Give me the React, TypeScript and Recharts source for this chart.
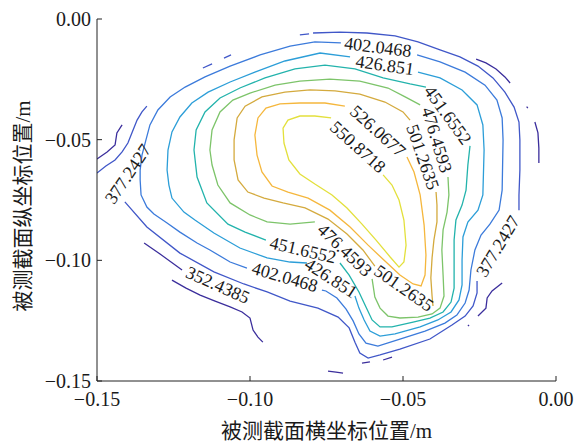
import React from 'react';
import { ComposedChart, Line, Scatter, XAxis, YAxis } from 'recharts';

// ---- data (millimetres, axes show metres) ----
const xTicks = [-150, -100, -50, 0];
const yTicks = [-150, -100, -50, 0];

const contourLevels = [352.4385, 377.2427, 402.0468, 426.851, 451.6552, 476.4593, 501.2635, 526.0677, 550.8718];

const level1 = [
  [[-150, -58.0], [-146.7, -55.1], [-144.1, -52.2], [-143.5, -47.2], [-141.8, -43.9]],
  [[-134.6, -92.8], [-129.4, -97.4], [-122.2, -104.0]],
  [[-125.5, -108.2], [-120.9, -111.5], [-116.3, -114.4], [-111.4, -116.9], [-106.5, -119.3], [-102.6, -121.4], [-100.0, -123.9], [-99.0, -128.9], [-97.4, -131.8], [-95.8, -133.9]],
  [[-74.5, -145.9], [-71.9, -146.3], [-69.6, -146.7]],
  [[-63.4, -142.6], [-60.8, -142.1]],
  [[-56.5, -141.3], [-53.6, -140.1]],
  [[-26.1, -16.6], [-22.9, -18.2], [-19.6, -20.7], [-16.7, -24.0], [-15.0, -26.5]],
  [[-9.6, -36.3], [-9.2, -36.9]],
  [[-6.9, -42.7], [-5.9, -47.2], [-5.6, -53.5], [-5.6, -59.7]],
  [[-17.6, -109.4], [-20.9, -112.7], [-22.5, -115.6], [-22.9, -119.8], [-25.5, -123.1]],
  [[-28.8, -126.8], [-28.4, -127.2]],
];

const level2 = [
  [[-150, -63.8], [-147.1, -60.9], [-144.1, -58.4], [-141.8, -55.1], [-139.9, -51.4], [-138.6, -47.2], [-136.9, -41.9], [-135.3, -38.5], [-133.7, -36.1]],
  [[-115.4, -20.3], [-112.4, -18.6]],
  [[-108.5, -16.2], [-106.2, -14.9]],
  [[-83.7, -6.6], [-80.7, -6.2]],
  [[-79.4, -5.8], [-70.6, -5.4], [-61.8, -5.8], [-52.6, -7.0], [-45.1, -9.5], [-37.9, -12.8], [-31.4, -15.7], [-25.5, -19.5], [-20.6, -24.4], [-16.7, -30.3], [-13.7, -36.5], [-12.1, -42.7], [-11.8, -50.1], [-11.8, -62.6], [-12.1, -72.9], [-12.1, -79.2]],
  [[-25.8, -108.6], [-25.8, -113.5], [-27.1, -118.9], [-29.7, -123.1], [-34.0, -126.8], [-41.2, -132.6], [-51.0, -136.8], [-57.5, -139.2], [-61.4, -140.5], [-64.1, -138.4], [-65.7, -133.9], [-67.6, -128.0], [-71.2, -123.5], [-77.8, -119.8], [-86.9, -116.9], [-94.4, -113.1], [-102.0, -109.8], [-111.8, -104.8], [-122.9, -97.0], [-133.7, -86.2], [-140.9, -75.8]],
];

const level3 = [
  [[-101.0, -103.2], [-106.5, -100.7], [-113.1, -95.7], [-117.3, -92.8], [-122.9, -88.3], [-127.1, -84.5], [-131.4, -80.8], [-133.7, -77.9], [-135.6, -72.9], [-135.9, -66.7], [-135.9, -62.6], [-135.3, -56.4], [-134.0, -50.1], [-132.7, -43.9], [-130.1, -37.7], [-126.1, -32.3], [-121.2, -28.2], [-114.7, -24.0], [-106.5, -19.5], [-96.7, -14.9], [-86.9, -11.2], [-78.8, -9.5], [-70.3, -9.9]],
  [[-45.4, -14.9], [-37.9, -17.8], [-29.7, -22.0], [-23.2, -27.4], [-19.3, -33.6], [-17.6, -41.0], [-17.3, -50.1], [-17.6, -70.9], [-18.6, -79.2], [-21.6, -85.0], [-24.5, -89.5], [-26.5, -95.7], [-27.8, -104.0], [-28.4, -112.3], [-29.7, -117.7], [-32.4, -122.7], [-36.3, -126.0], [-42.8, -129.3], [-51.0, -132.6], [-58.2, -135.5], [-62.1, -134.3], [-64.4, -130.5], [-66.3, -125.1], [-68.6, -120.2], [-71.6, -115.6], [-75.2, -112.7], [-76.5, -112.3]],
];

const level4 = [
  [[-81.4, -101.1], [-86.9, -100.7], [-94.4, -99.0], [-103.3, -94.9], [-111.8, -88.7], [-118.0, -83.3], [-121.6, -80.0], [-125.5, -74.2], [-126.5, -68.8], [-127.1, -62.6], [-126.8, -54.3], [-125.5, -46.8], [-122.9, -40.6], [-119.0, -34.8], [-113.7, -30.3], [-106.5, -26.1], [-98.4, -22.0], [-88.6, -17.4], [-77.1, -14.1], [-67.3, -15.7]],
  [[-45.1, -22.0], [-37.9, -24.4], [-30.7, -29.4], [-25.8, -35.6], [-23.9, -43.9], [-23.5, -54.3], [-23.9, -72.9], [-25.5, -79.2], [-28.8, -84.1], [-30.4, -90.3], [-30.7, -99.9], [-30.7, -110.2], [-31.7, -116.4], [-34.3, -121.4], [-38.6, -124.7], [-44.4, -127.6], [-52.6, -130.5], [-57.5, -131.4], [-60.8, -129.3], [-62.7, -124.7], [-64.4, -119.8], [-65.7, -114.8]],
];

const level5 = [
  [[-94.8, -91.6], [-101.6, -88.3], [-107.2, -85.0], [-114.1, -76.2], [-117.3, -65.5], [-118.3, -54.3], [-117.6, -46.0], [-114.7, -38.5], [-109.8, -32.7], [-103.3, -28.6], [-95.1, -24.4], [-85.3, -20.7], [-75.5, -19.1], [-65.7, -20.7], [-56.5, -24.4], [-47.7, -26.9], [-42.5, -28.2]],
  [[-28.1, -52.6], [-28.8, -60.5], [-29.4, -70.9], [-30.7, -77.1], [-32.7, -83.3], [-33.3, -91.6], [-33.3, -101.9], [-33.3, -111.5], [-34.3, -117.3], [-36.9, -121.4], [-41.2, -123.9], [-46.7, -125.6], [-53.6, -127.6], [-57.5, -127.6], [-60.1, -124.7], [-62.1, -119.3], [-64.4, -113.1], [-67.6, -106.1], [-70.6, -101.1]],
];

const level6 = [
  [[-78.8, -84.1], [-86.9, -85.0], [-94.4, -84.1], [-100.0, -81.2], [-106.5, -76.2], [-110.5, -68.8], [-112.4, -60.5], [-113.1, -54.3], [-112.4, -46.0], [-109.8, -38.5], [-105.6, -33.6], [-100.0, -30.7], [-91.8, -27.4], [-83.7, -25.7], [-73.9, -24.9], [-64.1, -25.7], [-54.9, -28.6], [-49.3, -32.3], [-44.4, -35.6]],
  [[-35.3, -65.5], [-35.0, -72.9], [-35.6, -80.0], [-36.9, -87.4], [-37.3, -95.7], [-36.9, -106.1], [-36.6, -114.8], [-37.9, -119.8], [-40.5, -122.2], [-45.1, -123.5], [-51.0, -123.9], [-54.9, -123.1], [-57.5, -119.8], [-59.2, -115.2], [-59.8, -110.2], [-60.1, -107.7]],
];

const level7 = [
  [[-59.2, -102.4], [-63.1, -95.7], [-68.3, -89.1], [-74.5, -82.9], [-82.0, -78.3], [-89.2, -76.2], [-95.4, -74.2], [-100.7, -71.7], [-103.9, -66.7], [-105.2, -58.4], [-105.2, -50.1], [-104.2, -41.0], [-101.6, -36.1], [-96.1, -32.3], [-88.6, -30.3], [-80.4, -29.4], [-72.2, -29.8], [-64.1, -31.1], [-55.9, -34.4], [-50.0, -38.5], [-47.7, -41.9]],
  [[-39.2, -71.7], [-38.9, -77.1], [-38.9, -84.1], [-39.9, -91.6], [-40.5, -99.0], [-40.9, -107.3], [-40.5, -114.8], [-40.2, -118.9]],
];

const level8 = [
  [[-48.7, -57.2], [-46.4, -63.4], [-44.4, -72.9], [-43.1, -85.4], [-42.5, -97.8], [-42.8, -106.1], [-44.1, -110.6], [-46.7, -109.8], [-51.0, -106.1], [-55.9, -100.3], [-61.4, -93.7], [-67.3, -86.2], [-73.9, -79.2], [-81.0, -74.2], [-87.6, -71.7], [-92.8, -69.2], [-96.1, -63.4], [-97.7, -56.4], [-98.4, -48.1], [-97.4, -41.0], [-94.8, -36.9], [-90.2, -35.2], [-83.7, -34.8], [-75.5, -34.8], [-69.0, -36.1]],
];

const level9 = [
  [[-56.5, -64.6], [-53.6, -68.8], [-51.3, -75.0], [-49.7, -83.3], [-49.0, -93.7], [-49.7, -100.7], [-51.3, -102.8], [-54.2, -98.6], [-58.8, -91.6], [-63.4, -85.0], [-68.3, -78.3], [-73.2, -72.9], [-78.8, -68.4], [-83.7, -64.2], [-87.3, -58.4], [-88.9, -51.4], [-89.2, -45.2], [-87.6, -41.9], [-83.7, -40.2], [-78.8, -40.2], [-73.5, -41.0]],
];

const levelSegments = [level1, level2, level3, level4, level5, level6, level7, level8, level9];

// contour labels
const labelTexts = ['352.4385', '377.2427', '377.2427', '402.0468', '402.0468', '426.851', '426.851', '451.6552', '451.6552', '476.4593', '476.4593', '501.2635', '501.2635', '526.0677', '550.8718'];
const labelXs = [-110.5, -139.9, -19.0, -58.2, -88.6, -55.9, -73.5, -35.3, -82.7, -38.9, -69.0, -43.5, -49.7, -58.2, -64.7];
const labelYs = [-110.2, -64.2, -94.1, -11.6, -106.9, -19.1, -107.3, -39.8, -95.7, -50.1, -95.7, -57.2, -111.5, -46.4, -53.0];

// ---- styles ----
const levelColors = ['#3B2E9C', '#4057C8', '#3C7BDB', '#2C9ED8', '#23B3AC', '#7DC46A', '#D4AA3E', '#F5B73D', '#E3E03C'];
const labelAngles = [24, -56, -59, 7, 16, 8, 33, 54, 13, 73, 44, 71, 35, 42, 42];
const FONT = '"Liberation Serif", "Times New Roman", "Noto Sans CJK SC", serif';
const INK = '#1a1a1a';

const fmt = (v: number) => {
  const s = (Math.abs(v) / 1000).toFixed(2);
  return v < 0 ? '\u2212' + s : s;
};

const XTick = (props: any) => {
  const { x, y, payload } = props;
  return (
    <g>
      <line x1={x} y1={y} x2={x} y2={y - 5} stroke="#222" strokeWidth={1} />
      <text x={x} y={y + 25} textAnchor="middle" fontFamily={FONT} fontSize={20} fill={INK}>
        {fmt(payload.value)}
      </text>
    </g>
  );
};

const YTick = (props: any) => {
  const { x, y, payload } = props;
  return (
    <g>
      <line x1={x} y1={y} x2={x + 5} y2={y} stroke="#222" strokeWidth={1} />
      <text x={x - 6} y={y + 7} textAnchor="end" fontFamily={FONT} fontSize={20} fill={INK}>
        {fmt(payload.value)}
      </text>
    </g>
  );
};

const XTitle = (props: any) => {
  const vb = props.viewBox || { x: 97, y: 381, width: 459, height: 65 };
  return (
    <text x={vb.x + vb.width / 2} y={vb.y + 57} textAnchor="middle" fontFamily={FONT} fontSize={21} fill={INK}>
      被测截面横坐标位置/m
    </text>
  );
};

const YTitle = (props: any) => {
  const vb = props.viewBox || { x: 37, y: 19, width: 60, height: 362 };
  const cx = vb.x - 7;
  const cy = vb.y + vb.height / 2 + 6;
  return (
    <text x={cx} y={cy} transform={`rotate(-90 ${cx} ${cy})`} textAnchor="middle" fontFamily={FONT} fontSize={21} fill={INK}>
      被测截面纵坐标位置/m
    </text>
  );
};

const renderLabel = (props: any) => {
  const { cx, cy, payload } = props;
  if (cx == null || cy == null) return <g />;
  const a = labelAngles[payload.i];
  return (
    <text x={cx} y={cy} dy="0.34em" transform={`rotate(${a} ${cx} ${cy})`} textAnchor="middle" fontFamily={FONT} fontSize={18} fill={INK}>
      {payload.text}
    </text>
  );
};

export default function App() {
  const labelPoints = labelTexts.map((t, i) => ({ x: labelXs[i], y: labelYs[i], text: t, i }));
  return (
    <div style={{ position: 'absolute', left: 0, top: 0, width: 579, height: 446, background: '#fff' }}>
      <ComposedChart width={579} height={446} margin={{ top: 19, right: 23, bottom: 0, left: 37 }}>
        <XAxis
          type="number"
          dataKey="x"
          domain={[-150, 0]}
          ticks={xTicks}
          allowDataOverflow
          interval={0}
          height={65}
          tickSize={0}
          tickMargin={0}
          tickLine={false}
          tick={XTick}
          axisLine={{ stroke: '#222', strokeWidth: 1 }}
          label={XTitle}
        />
        <YAxis
          type="number"
          dataKey="y"
          domain={[-150, 0]}
          ticks={yTicks}
          allowDataOverflow
          interval={0}
          width={60}
          tickSize={0}
          tickMargin={0}
          tickLine={false}
          tick={YTick}
          axisLine={{ stroke: '#222', strokeWidth: 1 }}
          label={YTitle}
        />
        {levelSegments.flatMap((segs, li) =>
          segs.map((seg, si) => (
            <Line
              key={`c${li}-${si}`}
              name={`${contourLevels[li]}`}
              data={seg.map(([x, y]) => ({ x, y }))}
              dataKey="y"
              type="linear"
              stroke={levelColors[li]}
              strokeWidth={1.3}
              dot={false}
              activeDot={false}
              isAnimationActive={false}
              legendType="none"
            />
          ))
        )}
        <Scatter data={labelPoints} dataKey="y" shape={renderLabel} isAnimationActive={false} legendType="none" />
      </ComposedChart>
    </div>
  );
}
